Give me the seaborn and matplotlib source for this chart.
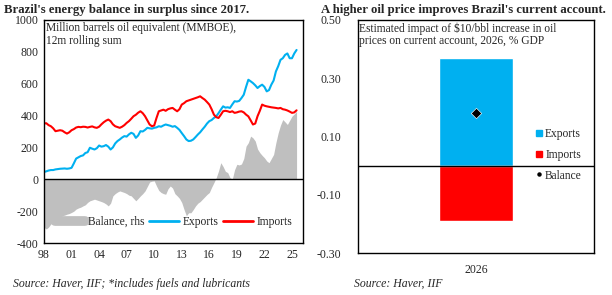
import numpy as np
import pandas as pd
import seaborn as sns
import matplotlib.pyplot as plt
from matplotlib.lines import Line2D

# quarterly values, 1998Q1 .. 2025Q3 (MMBOE, 12m rolling sum)
exports = [46, 50, 55, 58, 58, 62, 64, 66, 67, 68, 66, 68, 72, 100, 130, 138,
           146, 150, 165, 170, 198, 192, 187, 195, 212, 205, 208, 215, 205, 187, 200, 225,
           240, 250, 262, 271, 268, 282, 292, 285, 260, 275, 302, 300, 310, 323, 320, 318,
           323, 326, 333, 330, 338, 344, 340, 336, 330, 334, 323, 310, 290, 271, 250, 240,
           242, 250, 265, 281, 295, 313, 330, 350, 365, 372, 385, 395, 415, 437, 458, 450,
           452, 448, 470, 490, 488, 492, 510, 531, 580, 625, 615, 604, 590, 573, 585, 594,
           580, 552, 560, 594, 620, 677, 710, 750, 760, 781, 790, 760, 760, 790, 812]
imports = [350, 352, 340, 333, 320, 302, 305, 308, 305, 295, 287, 295, 308, 315, 325, 329,
           327, 330, 329, 325, 329, 332, 326, 323, 330, 345, 358, 368, 375, 365, 345, 333,
           328, 323, 330, 340, 354, 365, 380, 396, 405, 418, 427, 415, 396, 370, 344, 333,
           338, 385, 427, 432, 437, 430, 440, 445, 448, 437, 427, 440, 469, 478, 490, 495,
           500, 505, 510, 515, 521, 510, 500, 485, 469, 440, 406, 390, 385, 405, 427, 430,
           427, 422, 427, 417, 420, 425, 427, 420, 406, 395, 370, 344, 350, 396, 430, 469,
           462, 458, 455, 452, 450, 448, 445, 448, 440, 437, 432, 425, 417, 420, 433]
balance = [-302, -312, -300, -280, -260, -250, -250, -240, -229, -225, -219, -215,
           -208, -200, -187, -180, -175, -167, -160, -145, -135, -130, -125, -130,
           -135, -140, -146, -155, -167, -150, -104, -90, -80, -73, -78, -83,
           -90, -100, -104, -120, -135, -120, -104, -90, -73, -45, -17, -12,
           -10, -42, -70, -83, -90, -94, -60, -42, -55, -90, -104, -120,
           -146, -190, -229, -210, -210, -190, -167, -150, -140, -125, -110, -95,
           -83, -50, -21, 10, 52, 104, 80, 50, 42, 10, 0, 60,
           94, 90, 96, 130, 208, 230, 271, 260, 240, 190, 167, 150,
           135, 115, 104, 130, 156, 230, 292, 340, 375, 360, 344, 370, 396, 410, 427]

year_ticks = list(range(1998, 2026, 3))
year_labels = ['98', '01', '04', '07', '10', '13', '16', '19', '22', '25']

# right panel: impact of +$10/bbl on 2026 current account, % GDP
impact_year = ['2026', '2026']
impact_part = ['Exports', 'Imports']
impact_val = [0.37, -0.19]
impact_balance = [0.18]

BLUE = '#00B0F0'
RED = '#FF0000'
GREY = '#BFBFBF'

sns.set_style('white')
plt.rcParams['font.family'] = ['Liberation Serif', 'DejaVu Serif']
plt.rcParams['font.size'] = 8
plt.rcParams['axes.unicode_minus'] = False

df = pd.DataFrame({'t': 1998 + np.arange(len(exports)) * 0.25,
                   'Exports': exports, 'Imports': imports, 'Balance': balance})

fig = plt.figure(figsize=(6.12, 2.95), dpi=100)
ax1 = fig.add_axes([44 / 612, 1 - 243 / 295, 259 / 612, 223 / 295])
ax2 = fig.add_axes([358 / 612, 1 - 253 / 295, 236 / 612, 233 / 295])

# --- left: energy balance
ax1.fill_between(df['t'], 0, df['Balance'], color=GREY, lw=0)
sns.lineplot(data=df, x='t', y='Exports', color=BLUE, lw=1.5, ax=ax1)
sns.lineplot(data=df, x='t', y='Imports', color=RED, lw=1.5, ax=ax1)
ax1.axhline(0, color='black', lw=1)
ax1.set_xlim(1998, 2026.2)
ax1.set_ylim(-400, 1000)
ax1.set_yticks(range(-400, 1001, 200))
ax1.set_xticks(year_ticks)
ax1.set_xticklabels(year_labels)
ax1.set_xlabel('')
ax1.set_ylabel('')
ax1.tick_params(length=0, labelsize=8.5, pad=4)
for s in ax1.spines.values():
    s.set_color('black')
    s.set_linewidth(1)
ax1.text(0.006, 0.99, 'Million barrels oil equivalent (MMBOE),\n12m rolling sum',
         transform=ax1.transAxes, va='top', ha='left', fontsize=8.3, linespacing=1.05)
h1 = [Line2D([], [], color=GREY, lw=7),
      Line2D([], [], color=BLUE, lw=2),
      Line2D([], [], color=RED, lw=2)]
ax1.legend(h1, ['Balance, rhs', 'Exports', 'Imports'], ncol=3, frameon=False,
           loc='center', bbox_to_anchor=(0.5, 0.095), fontsize=8.3,
           handlelength=2.6, handletextpad=0.3, columnspacing=0.4)
fig.text(4 / 612, 1 - 10 / 295, "Brazil's energy balance in surplus since 2017.",
         fontsize=9.2, fontweight='bold', va='center', ha='left')
fig.text(13 / 612, 1 - 284 / 295, 'Source: Haver, IIF; *includes fuels and lubricants',
         fontsize=8.5, style='italic', va='center', ha='left')

# --- right: oil price impact
dfr = pd.DataFrame({'year': impact_year, 'part': impact_part, 'value': impact_val})
sns.barplot(data=dfr, x='year', y='value', hue='part', dodge=False,
            palette=[BLUE, RED], width=0.315, saturation=1, legend=False, ax=ax2)
sns.scatterplot(x=impact_year[:1], y=impact_balance, marker='D', color='black',
                s=28, ax=ax2, zorder=5)
ax2.axhline(0, color='black', lw=1)
ax2.set_xlim(-0.5, 0.5)
ax2.set_ylim(-0.30, 0.50)
ax2.set_yticks([-0.30, -0.10, 0.10, 0.30, 0.50])
ax2.set_yticklabels(['-0.30', '-0.10', '0.10', '0.30', '0.50'])
ax2.set_xlabel('')
ax2.set_ylabel('')
ax2.tick_params(length=0, labelsize=8.5, pad=8)
ax2.tick_params(axis='y', pad=12)
for s in ax2.spines.values():
    s.set_color('black')
    s.set_linewidth(1)
ax2.text(0.006, 0.99, 'Estimated impact of $10/bbl increase in oil\nprices on current account, 2026, % GDP',
         transform=ax2.transAxes, va='top', ha='left', fontsize=8.3, linespacing=1.05)
h2 = [Line2D([], [], color=BLUE, marker='s', ls='', markersize=5),
      Line2D([], [], color=RED, marker='s', ls='', markersize=5),
      Line2D([], [], color='black', marker='o', ls='', markersize=2.2)]
ax2.legend(h2, ['Exports', 'Imports', 'Balance'], frameon=False, loc='upper left',
           bbox_to_anchor=(0.71, 0.58), fontsize=8.3, handlelength=0.6,
           handletextpad=0.2, labelspacing=0.75)
fig.text(321 / 612, 1 - 10 / 295, "A higher oil price improves Brazil's current account.",
         fontsize=9.2, fontweight='bold', va='center', ha='left')
fig.text(354 / 612, 1 - 284 / 295, 'Source: Haver, IIF',
         fontsize=8.5, style='italic', va='center', ha='left')

fig.savefig('out.png', dpi=100)
